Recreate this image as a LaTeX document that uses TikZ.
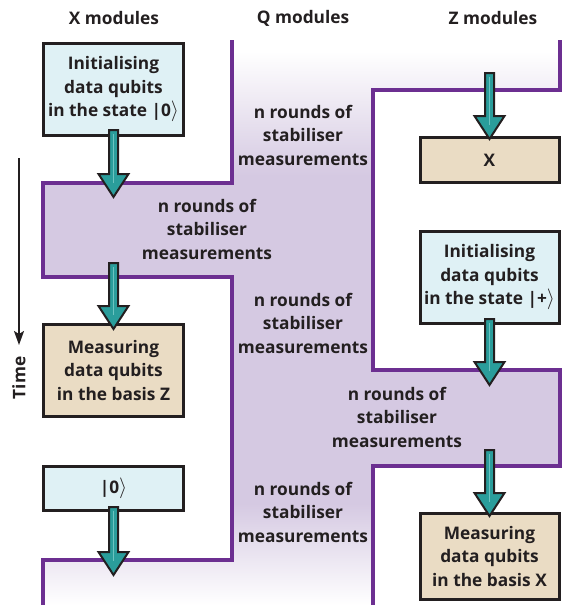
\documentclass[tikz,border=0pt]{standalone}
\usepackage{fontspec}
\setmainfont{Open Sans}
\usetikzlibrary{arrows.meta,calc}
\definecolor{ink}{HTML}{231F20}
\definecolor{qpurple}{HTML}{6C2F91}
\definecolor{lav}{HTML}{D5C9E2}
\definecolor{boxblue}{HTML}{DFF1F5}
\definecolor{boxtan}{HTML}{EADCC4}
\definecolor{tealA}{HTML}{2A9D9B}
\definecolor{tealB}{HTML}{6CC3C0}
\pgfdeclareverticalshading{qfade}{100bp}{color(0bp)=(white); color(25bp)=(white); color(34bp)=(lav); color(63bp)=(lav); color(74bp)=(white); color(100bp)=(white)}
\newcommand\qarr[2]{%
  \path[fill=tealA, draw=ink, line width=2pt, line join=miter]
    let \p1=(#1), \p2=(#2) in
    (\x1-4.5pt,\y1) -- (\x1-4.5pt,\y2+23pt) -- (\x1-15pt,\y2+23pt) -- (\x1,\y2)
    -- (\x1+15pt,\y2+23pt) -- (\x1+4.5pt,\y2+23pt) -- (\x1+4.5pt,\y1) -- cycle;
  \path[draw=tealB, line width=1.4pt]
    let \p1=(#1), \p2=(#2) in
    (\x1,\y1-4pt) -- (\x1,\y2+14pt);
}
\newcommand\rket{{\fontsize{21}{21}\selectfont$\rangle$}}
\begin{document}
\begin{tikzpicture}[x=1pt,y=-1pt,
  font=\fontsize{17.3}{23.5}\selectfont\bfseries, text=ink,
  qbox/.style={draw=ink, line width=3pt, align=center, inner sep=0pt},
  bluebox/.style={qbox, fill=boxblue},
  tanbox/.style={qbox, fill=boxtan},
  qline/.style={draw=qpurple, line width=4pt, line join=miter},
  qtext/.style={align=center},
  hdr/.style={font=\fontsize{17.3}{21}\selectfont\bfseries}]
\useasboundingbox (0,0) rectangle (563,605);

% purple Q region
\shade[shading=qfade] (232,40) -- (232,183) -- (43,183) -- (43,277) -- (232,277)
  -- (232,560) -- (43,560) -- (43,605) -- (373,605) -- (373,466) -- (560,466)
  -- (560,370) -- (373,370) -- (373,90) -- (560,90) -- (560,40) -- cycle;
\draw[qline] (232,40) -- (232,183) -- (43,183) -- (43,277) -- (232,277)
  -- (232,560) -- (43,560) -- (43,607);
\draw[qline] (560,40) -- (560,90) -- (373,90) -- (373,370) -- (560,370)
  -- (560,466) -- (373,466) -- (373,607);

% headers
\node[hdr] (hx) at (114,18) {X modules};
\node[hdr] (hq) at (303,18) {Q modules};
\node[hdr] (hz) at (493,18) {Z modules};

% boxes
\node[bluebox, minimum width=140pt, minimum height=92pt] (b1) at (113.5,89.5)
  {Initialising\\data qubits\\in the state |0\rket};
\node[tanbox, minimum width=140pt, minimum height=92pt] (mz) at (113.5,370.5)
  {Measuring\\data qubits\\in the basis Z};
\node[bluebox, minimum width=140pt, minimum height=44pt] (k0) at (113.5,488.5)
  {|0\rket};
\node[tanbox, minimum width=139pt, minimum height=45pt] (bx) at (489.5,160) {X};
\node[bluebox, minimum width=139pt, minimum height=92pt] (bp) at (489.5,277.5)
  {Initialising\\data qubits\\in the state |+\rket};
\node[tanbox, minimum width=139pt, minimum height=86pt] (mx) at (489.5,556.5)
  {Measuring\\data qubits\\in the basis X};

% stabiliser texts
\node[qtext] (q1) at (303,135) {n rounds of\\stabiliser\\measurements};
\node[qtext] (q2) at (207,229) {n rounds of\\stabiliser\\measurements};
\node[qtext] (q3) at (303,323) {n rounds of\\stabiliser\\measurements};
\node[qtext] (q4) at (397,417) {n rounds of\\stabiliser\\measurements};
\node[qtext] (q5) at (303,512) {n rounds of\\stabiliser\\measurements};

% arrows
\coordinate (t1) at (113.5,197);
\coordinate (s2) at (113.5,263);
\coordinate (t3) at (113.5,575);
\coordinate (s4) at (489.5,73);
\coordinate (t5) at (489.5,385);
\coordinate (s6) at (489.5,450);
\qarr{$(b1.south)+(0,-7)$}{t1}
\qarr{s2}{$(mz.north)+(0,6)$}
\qarr{$(k0.south)+(0,-5)$}{t3}
\qarr{s4}{$(bx.north)+(0,3)$}
\qarr{$(bp.south)+(0,-6)$}{t5}
\qarr{s6}{$(mx.north)+(0,4)$}

% time axis
\coordinate (ts) at (19,158);
\coordinate (te) at (19,345);
\draw[draw=ink, line width=2pt, -{Stealth[length=14pt,width=10pt,inset=3pt]}] (ts) -- (te);
\node[hdr, rotate=90] (time) at (19,378) {Time};
\end{tikzpicture}
\end{document}
